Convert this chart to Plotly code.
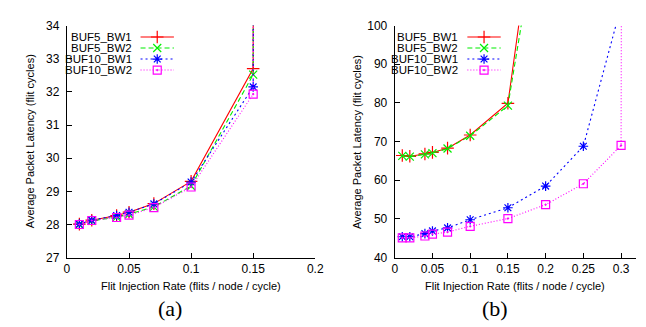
import plotly.graph_objects as go

# ---------------- data ----------------
series_names = ["BUF5_BW1", "BUF5_BW2", "BUF10_BW1", "BUF10_BW2"]

# panel (a)
x_a = [0.01, 0.02, 0.04, 0.05, 0.07, 0.10, 0.15, 0.16]
a_buf5_bw1 = [28.01, 28.13, 28.27, 28.37, 28.63, 29.30, 32.70, 400]
a_buf5_bw2 = [28.00, 28.11, 28.22, 28.31, 28.53, 29.16, 32.52, 400]
a_buf10_bw1 = [28.01, 28.13, 28.27, 28.37, 28.62, 29.28, 32.15, 400]
a_buf10_bw2 = [28.00, 28.12, 28.21, 28.28, 28.51, 29.13, 31.93, 400]

# panel (b)
x_b5 = [0.01, 0.02, 0.04, 0.05, 0.07, 0.10, 0.15, 0.20]
b_buf5_bw1 = [66.4, 66.2, 66.8, 67.2, 68.3, 71.7, 79.9, 150]
b_buf5_bw2 = [66.3, 66.1, 66.7, 67.0, 68.2, 71.5, 79.3, 138]
x_b10 = [0.01, 0.02, 0.04, 0.05, 0.07, 0.10, 0.15, 0.20, 0.25, 0.30, 0.31]
b_buf10_bw1 = [45.4, 45.4, 46.2, 46.9, 47.7, 49.8, 52.9, 58.5, 68.8, 105, None]
b_buf10_bw2 = [45.1, 45.1, 45.6, 46.1, 46.6, 48.1, 50.1, 53.7, 59.1, 69.0, 1000]

x_ticks_a = [0, 0.05, 0.1, 0.15, 0.2]
y_ticks_a = [27, 28, 29, 30, 31, 32, 33, 34]
x_ticks_b = [0, 0.05, 0.1, 0.15, 0.2, 0.25, 0.3]
y_ticks_b = [40, 50, 60, 70, 80, 90, 100]

x_title = "Flit Injection Rate (flits / node / cycle)"
y_title = "Average Packet Latency (flit cycles)"

# ---------------- styles ----------------
W, H = 646, 327
FONT = "Liberation Sans, Arial, Helvetica, sans-serif"
styles = [
    dict(color="#FF0000", dash="solid", symbol="cross-thin-open", size=9),
    dict(color="#00EE00", dash="5px,3px", symbol="x-thin-open", size=8),
    dict(color="#0000FF", dash="2px,3px", symbol="asterisk-open", size=8),
    dict(color="#FF00FF", dash="1px,2px", symbol="square-open-dot", size=8),
]

fig = go.Figure()

def add_series(x, y, st, xa, ya):
    fig.add_trace(go.Scatter(
        x=x, y=y, mode="lines+markers", xaxis=xa, yaxis=ya,
        line=dict(color=st["color"], dash=st["dash"], width=1.1),
        marker=dict(symbol=st["symbol"], size=st["size"], color=st["color"],
                    line=dict(color=st["color"], width=1.2)),
        showlegend=False, connectgaps=False, cliponaxis=True))

panel_a = [a_buf5_bw1, a_buf5_bw2, a_buf10_bw1, a_buf10_bw2]
for ys, st in zip(panel_a, styles):
    add_series(x_a, ys, st, "x", "y")

panel_b = [(x_b5, b_buf5_bw1), (x_b5, b_buf5_bw2), (x_b10, b_buf10_bw1), (x_b10, b_buf10_bw2)]
for (xs, ys), st in zip(panel_b, styles):
    add_series(xs, ys, st, "x2", "y2")

# ---------------- custom legends (text left of sample, gnuplot style) ----------------
legend_layout = [  # (text right edge px, sample start px, sample end px, first row y px)
    (125, 132, 166, 23),
    (458, 465, 499, 23),
]
row_step = 11.5
annotations = []
for (tx, s0, s1, y0) in legend_layout:
    for i, (name, st) in enumerate(zip(series_names, styles)):
        yy = y0 + i * row_step
        fig.add_trace(go.Scatter(
            x=[s0, (s0 + s1) / 2, s1], y=[yy, yy, yy], xaxis="x3", yaxis="y3",
            mode="lines", line=dict(color=st["color"], dash=st["dash"], width=1.1),
            showlegend=False, hoverinfo="skip"))
        fig.add_trace(go.Scatter(
            x=[(s0 + s1) / 2], y=[yy], xaxis="x3", yaxis="y3", mode="markers",
            marker=dict(symbol=st["symbol"], size=st["size"], color=st["color"],
                        line=dict(color=st["color"], width=1.2)),
            showlegend=False, hoverinfo="skip"))
        annotations.append(dict(
            x=tx / W, y=1 - yy / H, xref="paper", yref="paper", text=name,
            showarrow=False, xanchor="right", yanchor="middle",
            font=dict(family=FONT, size=11.5, color="black")))

# ---------------- geometry ----------------
ax_a = (57, 310)
ax_b = (391, 637)
ax_y = (11, 253.5)
y_dom = [1 - ax_y[1] / H, 1 - ax_y[0] / H]

axis_common = dict(showline=True, linecolor="black", linewidth=1.2, mirror=False,
                   ticks="inside", ticklen=5, tickwidth=1, tickcolor="black",
                   showgrid=False, zeroline=False,
                   tickfont=dict(family=FONT, size=12, color="black"))

fig.update_layout(
    width=W, height=H, margin=dict(l=0, r=0, t=0, b=0),
    paper_bgcolor="white", plot_bgcolor="rgba(0,0,0,0)",
    xaxis=dict(domain=[ax_a[0] / W, ax_a[1] / W], range=[0, 0.2], anchor="y",
               tickvals=x_ticks_a, ticktext=[f"{v:g}" for v in x_ticks_a], **axis_common),
    yaxis=dict(domain=y_dom, range=[27, 34], anchor="x",
               tickvals=y_ticks_a, ticklabelstandoff=4, **axis_common),
    xaxis2=dict(domain=[ax_b[0] / W, ax_b[1] / W], range=[0, 0.32], anchor="y2",
                tickvals=x_ticks_b, ticktext=[f"{v:g}" for v in x_ticks_b], **axis_common),
    yaxis2=dict(domain=y_dom, range=[40, 100], anchor="x2",
                tickvals=y_ticks_b, ticklabelstandoff=4, **axis_common),
    xaxis3=dict(domain=[0, 1], range=[0, W], visible=False, anchor="y3", fixedrange=True),
    yaxis3=dict(domain=[0, 1], range=[H, 0], visible=False, anchor="x3", fixedrange=True),
)

# axis titles and captions
for (lft, rgt), cap, ytx in [(ax_a, "(a)", 19), (ax_b, "(b)", 352)]:
    annotations.append(dict(x=(lft + rgt) / 2 / W, y=1 - 283 / H, xref="paper", yref="paper",
                            text=x_title, showarrow=False, xanchor="center", yanchor="middle",
                            font=dict(family=FONT, size=11, color="black")))
    annotations.append(dict(x=ytx / W, y=1 - (ax_y[0] + ax_y[1]) / 2 / H, xref="paper", yref="paper",
                            text=y_title, showarrow=False, textangle=-90,
                            xanchor="center", yanchor="middle",
                            font=dict(family=FONT, size=11, color="black")))
    annotations.append(dict(x=((lft + rgt) / 2 - 21) / W, y=1 - 307 / H, xref="paper", yref="paper",
                            text=cap, showarrow=False, xanchor="center", yanchor="middle",
                            font=dict(family="Liberation Serif, DejaVu Serif, serif", size=22,
                                      color="black")))

fig.update_layout(annotations=annotations)
fig.write_html("out.html")
